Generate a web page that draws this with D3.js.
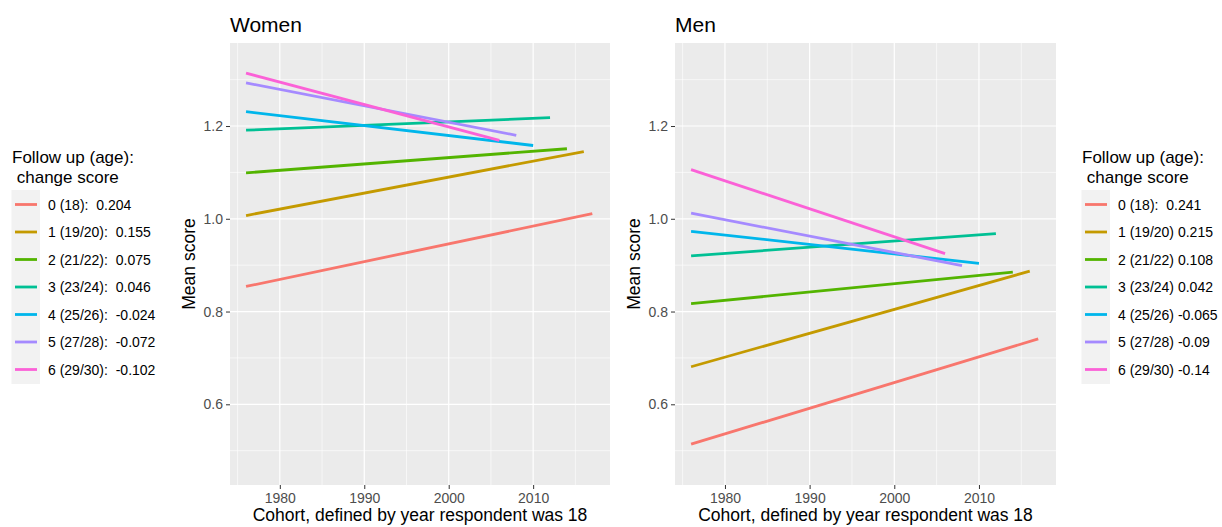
<!DOCTYPE html>
<html>
<head>
<meta charset="utf-8">
<script src="https://cdn.jsdelivr.net/npm/d3@7"></script>
<style>
  body { margin: 0; background: #fff; }
  text { font-family: "Liberation Sans", Arial, sans-serif; }
</style>
</head>
<body>
<script>
// follow-up groups
let groups = ['0 (18)', '1 (19/20)', '2 (21/22)', '3 (23/24)', '4 (25/26)', '5 (27/28)', '6 (29/30)'];
let colors = ['#F8766D', '#C49A00', '#53B400', '#00C094', '#00B6EB', '#A58AFF', '#FB61D7'];

// change scores shown in the legends
let womenChange = ['0.204', '0.155', '0.075', '0.046', '-0.024', '-0.072', '-0.102'];
let menChange = ['0.241', '0.215', '0.108', '0.042', '-0.065', '-0.09', '-0.14'];

// cohort range of each fitted line
let startYear = [1976, 1976, 1976, 1976, 1976, 1976, 1976];
let endYear = [2017, 2016, 2014, 2012, 2010, 2008, 2006];

// fitted mean score at start and end of each line
let womenStart = [0.854, 1.007, 1.099, 1.191, 1.231, 1.293, 1.314];
let womenEnd = [1.011, 1.145, 1.151, 1.218, 1.158, 1.180, 1.169];
let menStart = [0.514, 0.681, 0.817, 0.920, 0.973, 1.012, 1.106];
let menEnd = [0.741, 0.887, 0.885, 0.968, 0.904, 0.899, 0.925];

let xTicks = [1980, 1990, 2000, 2010];
let xMinor = [1975, 1985, 1995, 2005, 2015];
let yTicks = [0.6, 0.8, 1.0, 1.2];
let yMinor = [0.5, 0.7, 0.9, 1.1, 1.3];

let W = 1222, H = 527;
let svg = d3.select('body').append('svg')
    .attr('width', W)
    .attr('height', H);

let panelTop = 43, panelBottom = 485;

let y = d3.scaleLinear().domain([0.426, 1.379]).range([panelBottom, panelTop]);

let line = d3.line()
  .x(function(d){ return d.x; })
  .y(function(d){ return d.y; });

function drawPanel(left, right, title, starts, ends) {
  let x = d3.scaleLinear().domain([1974.1, 2019.1]).range([left, right]);
  let g = svg.append('g');

  g.append('rect')
    .attr('x', left).attr('y', panelTop)
    .attr('width', right - left).attr('height', panelBottom - panelTop)
    .attr('fill', '#EBEBEB');

  // minor grid
  g.selectAll('.xminor').data(xMinor).enter().append('line')
    .attr('x1', function(d){ return x(d); }).attr('x2', function(d){ return x(d); })
    .attr('y1', panelTop).attr('y2', panelBottom)
    .attr('stroke', '#fff').attr('stroke-width', 0.6);
  g.selectAll('.yminor').data(yMinor).enter().append('line')
    .attr('y1', function(d){ return y(d); }).attr('y2', function(d){ return y(d); })
    .attr('x1', left).attr('x2', right)
    .attr('stroke', '#fff').attr('stroke-width', 0.6);
  // major grid
  g.selectAll('.xmajor').data(xTicks).enter().append('line')
    .attr('x1', function(d){ return x(d); }).attr('x2', function(d){ return x(d); })
    .attr('y1', panelTop).attr('y2', panelBottom)
    .attr('stroke', '#fff').attr('stroke-width', 1.2);
  g.selectAll('.ymajor').data(yTicks).enter().append('line')
    .attr('y1', function(d){ return y(d); }).attr('y2', function(d){ return y(d); })
    .attr('x1', left).attr('x2', right)
    .attr('stroke', '#fff').attr('stroke-width', 1.2);

  // axes
  let xAxis = d3.axisBottom(x).tickValues(xTicks).tickSize(4).tickPadding(4).tickFormat(d3.format('d'));
  let yAxis = d3.axisLeft(y).tickValues(yTicks).tickSize(4).tickPadding(3).tickFormat(d3.format('.1f'));

  let gx = g.append('g')
    .attr('transform', 'translate(0,' + panelBottom + ')')
    .call(xAxis);
  let gy = g.append('g')
    .attr('transform', 'translate(' + left + ',0)')
    .call(yAxis);
  [gx, gy].forEach(function(a){
    a.select('.domain').remove();
    a.selectAll('.tick line').attr('stroke', '#333').attr('stroke-width', 1);
    a.selectAll('.tick text').attr('fill', '#4D4D4D').style('font-size', '14px')
      .style('font-family', '"Liberation Sans", Arial, sans-serif');
  });

  // lines
  let series = groups.map(function(gname, i){
    return [
      {x: x(startYear[i]), y: y(starts[i])},
      {x: x(endYear[i]), y: y(ends[i])}
    ];
  });
  g.selectAll('.line').data(series).enter().append('path')
    .attr('class', 'line')
    .attr('d', line)
    .attr('fill', 'none')
    .attr('stroke', function(d, i){ return colors[i]; })
    .attr('stroke-width', 2.8);

  g.append('text')
    .attr('x', left).attr('y', 32)
    .style('font-size', '21px').attr('fill', '#000')
    .text(title);

  g.append('text')
    .attr('transform', 'translate(' + (left - 35) + ',' + ((panelTop + panelBottom) / 2) + ') rotate(-90)')
    .attr('text-anchor', 'middle')
    .style('font-size', '17.5px').attr('fill', '#000')
    .text('Mean score');

  g.append('text')
    .attr('x', (left + right) / 2).attr('y', 521)
    .attr('text-anchor', 'middle')
    .style('font-size', '17.5px').attr('fill', '#000')
    .text('Cohort, defined by year respondent was 18');
}

function drawLegend(left, labels) {
  let g = svg.append('g');
  g.append('text').attr('x', left).attr('y', 163)
    .style('font-size', '17px').text('Follow up (age):');
  g.append('text').attr('x', left).attr('y', 183)
    .style('font-size', '17px').text('\u00a0change score');

  let rowY = d3.scaleLinear().domain([0, 6]).range([204.5, 369.5]);
  g.append('rect')
    .attr('x', left - 0.5).attr('y', 190)
    .attr('width', 28.5).attr('height', 194)
    .attr('fill', '#F2F2F2');
  g.selectAll('.key').data(groups).enter().append('line')
    .attr('x1', left + 3).attr('x2', left + 25)
    .attr('y1', function(d, i){ return rowY(i); })
    .attr('y2', function(d, i){ return rowY(i); })
    .attr('stroke', function(d, i){ return colors[i]; })
    .attr('stroke-width', 2.8);
  g.selectAll('.lab').data(labels).enter().append('text')
    .attr('x', left + 36)
    .attr('y', function(d, i){ return rowY(i) + 5; })
    .style('font-size', '14px').attr('fill', '#000')
    .text(function(d){ return d; });
}

drawPanel(230, 610, 'Women', womenStart, womenEnd);
drawPanel(675, 1056, 'Men', menStart, menEnd);

drawLegend(12, groups.map(function(gname, i){ return gname + ':\u00a0\u00a0' + womenChange[i]; }));
drawLegend(1082, groups.map(function(gname, i){
  return gname + (i === 0 ? ':\u00a0\u00a0' : '\u00a0') + menChange[i];
}));
</script>
</body>
</html>
